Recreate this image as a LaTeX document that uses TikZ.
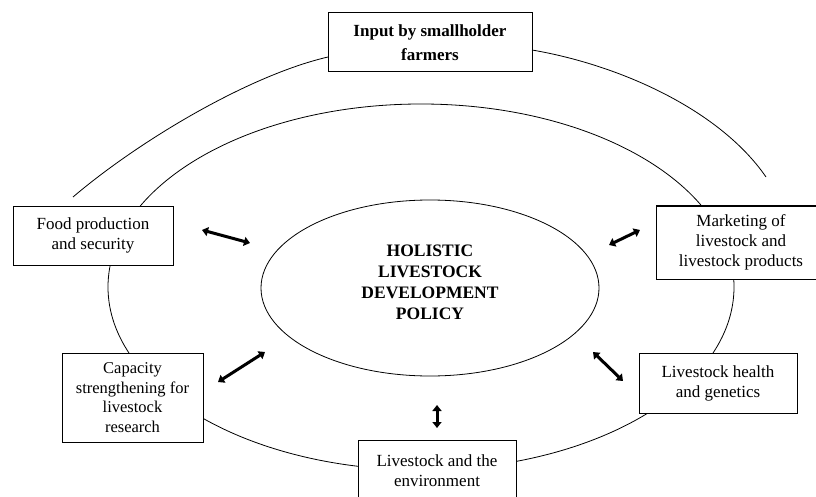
\documentclass[tikz,border=0pt]{standalone}
\usepackage{fontspec}
\setmainfont{Liberation Serif}
\usetikzlibrary{arrows.meta,shapes.geometric}
\begin{document}
\begin{tikzpicture}[x=1pt,y=-1pt,
  box/.style={draw,line width=1pt,fill=white,rectangle,inner sep=0pt,align=center,
    font=\fontsize{17}{20}\selectfont},
  ring/.style={line width=0.8pt},
  dbl/.style={line width=3pt,{Triangle[length=6pt,width=9pt]}-{Triangle[length=6pt,width=9pt]}}]
\clip (0,0) rectangle (816,497);
\fill[white] (0,0) rectangle (816,497);
% middle ring
\draw[ring] (421,287) ellipse [x radius=313pt, y radius=183pt];
% top box and outer arcs
\node[box,minimum width=204pt,minimum height=59pt,font=\bfseries\fontsize{17}{24}\selectfont] (top) at (430,42.5) {Input by smallholder\\farmers};
\coordinate (oL) at (73,197);
\coordinate (oLt) at (328,57);
\coordinate (oRt) at (532,50);
\coordinate (oR) at (766,177);
\draw[ring] (oL) .. controls (140,140) and (250,75) .. (oLt);
\draw[ring] (oRt) .. controls (620,65) and (720,110) .. (oR);
% boxes
\node[box,minimum width=160pt,minimum height=59pt] (food) at (93,235.5) {Food production\\and security};
\node[box,minimum width=170pt,minimum height=73pt] (mkt) at (741,242.5) {Marketing of\\livestock and\\livestock products};
\node[box,minimum width=141pt,minimum height=89pt,font=\fontsize{16.5}{19.5}\selectfont] (cap) at (132.5,397.5) {Capacity\\strengthening for\\livestock\\research};
\node[box,minimum width=158pt,minimum height=60pt] (hlth) at (718,383) {Livestock health\\and genetics};
\node[box,minimum width=158pt,minimum height=62pt] (env) at (437,471) {Livestock and the\\environment};
% centre ellipse
\node[draw,ellipse,line width=0.8pt,minimum width=338pt,minimum height=176pt,inner sep=0pt] (pol) at (430,288) {};
\node[align=center,font=\bfseries\fontsize{17.5}{21}\selectfont] (poltext) at (430,282) {HOLISTIC\\LIVESTOCK\\DEVELOPMENT\\POLICY};
% arrows
\coordinate (a1) at (202,230); \coordinate (b1) at (250,243);
\coordinate (a2) at (609,245); \coordinate (b2) at (640,230);
\coordinate (a3) at (218,382); \coordinate (b3) at (265,352);
\coordinate (a4) at (437,405); \coordinate (b4) at (437,428);
\coordinate (a5) at (593,352); \coordinate (b5) at (623,381);
\draw[dbl] (a1) -- (b1);
\draw[dbl] (a2) -- (b2);
\draw[dbl] (a3) -- (b3);
\draw[dbl] (a4) -- (b4);
\draw[dbl] (a5) -- (b5);
\end{tikzpicture}
\end{document}
